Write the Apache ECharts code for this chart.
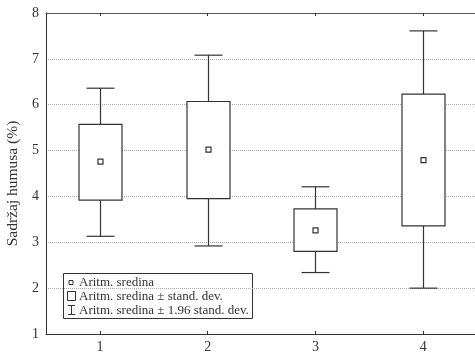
<!DOCTYPE html>
<html><head><meta charset="utf-8">
<script src="https://cdn.jsdelivr.net/npm/echarts@6/dist/echarts.min.js"></script>
<style>html,body{margin:0;padding:0;background:#fff}#c{width:475px;height:357px}</style>
</head><body><div id="c"></div>
<script>
var categories = ['1','2','3','4'];
var means = [4.76, 5.02, 3.26, 4.79];
var sdLow = [3.92, 3.95, 2.80, 3.36];
var sdHigh = [5.57, 6.07, 3.73, 6.23];
var ciLow = [3.13, 2.92, 2.34, 2.00];
var ciHigh = [6.36, 7.08, 4.21, 7.61];
var legendLabels = ['Aritm. sredina', 'Aritm. sredina \u00b1 stand. dev.', 'Aritm. sredina \u00b1 1.96 stand. dev.'];

var FONT = '"Liberation Serif", "DejaVu Serif", serif';
var INK = '#333';
var data = categories.map(function(c, i){ return [i, ciLow[i], sdLow[i], means[i], sdHigh[i], ciHigh[i]]; });

var chart = echarts.init(document.getElementById('c'), null, {renderer:'canvas'});
chart.setOption({
  animation:false,
  backgroundColor:'#fff',
  grid:{left:46, right:-2, top:13, bottom:23, containLabel:false, outerBoundsMode:'none'},
  xAxis:[{
    type:'category', data:categories, position:'bottom',
    axisLine:{lineStyle:{color:INK, width:1}},
    axisTick:{show:true, inside:true, alignWithLabel:true, length:3, lineStyle:{color:INK}},
    axisLabel:{color:INK, fontFamily:FONT, fontSize:14, margin:6},
    splitLine:{show:false}
  },{
    type:'category', data:categories, position:'top',
    axisLine:{lineStyle:{color:'#555', width:1}},
    axisTick:{show:true, inside:true, alignWithLabel:true, length:3, lineStyle:{color:INK}},
    axisLabel:{show:false}, splitLine:{show:false}
  }],
  yAxis:{
    type:'value', min:1, max:8, interval:1,
    name:'Sadržaj humusa (%)', nameLocation:'middle', nameGap:23, nameRotate:90,
    nameTextStyle:{color:INK, fontFamily:FONT, fontSize:15.5, padding:[0,20,0,0]},
    axisLine:{show:true, lineStyle:{color:INK, width:1}},
    axisTick:{show:false},
    axisLabel:{color:INK, fontFamily:FONT, fontSize:14, margin:7},
    splitLine:{show:true, lineStyle:{color:'#aaa', type:[1,1], width:1}}
  },
  series:[{
    type:'custom', xAxisIndex:0,
    data:data,
    renderItem:function(params, api){
      var x = api.value(0);
      var pW0 = api.coord([x, api.value(1)]);
      var pB0 = api.coord([x, api.value(2)]);
      var pM = api.coord([x, api.value(3)]);
      var pB1 = api.coord([x, api.value(4)]);
      var pW1 = api.coord([x, api.value(5)]);
      var cx = Math.round(pM[0]) + 0.5;
      var bw = 43, cw = 28, ms = 5;
      var st = {stroke:INK, lineWidth:1.2, fill:null};
      return {type:'group', children:[
        {type:'line', shape:{x1:cx, y1:pW1[1], x2:cx, y2:pB1[1]}, style:st},
        {type:'line', shape:{x1:cx, y1:pB0[1], x2:cx, y2:pW0[1]}, style:st},
        {type:'line', shape:{x1:cx-cw/2, y1:pW1[1], x2:cx+cw/2, y2:pW1[1]}, style:st},
        {type:'line', shape:{x1:cx-cw/2, y1:pW0[1], x2:cx+cw/2, y2:pW0[1]}, style:st},
        {type:'rect', shape:{x:cx-bw/2, y:pB1[1], width:bw, height:pB0[1]-pB1[1]}, style:{stroke:INK, lineWidth:1.2, fill:'#fff'}},
        {type:'rect', shape:{x:cx-ms/2, y:pM[1]-ms/2, width:ms, height:ms}, style:{stroke:INK, lineWidth:1.2, fill:'#fff'}}
      ]};
    },
    z:5
  }],
  graphic:[{
    type:'group', left:63, top:273, z:100,
    children:[
      {type:'rect', shape:{x:0.5, y:0.5, width:189, height:45}, style:{fill:'#fff', stroke:INK, lineWidth:1}},
      {type:'rect', shape:{x:6, y:7.5, width:4, height:4}, style:{fill:'#fff', stroke:INK, lineWidth:1}},
      {type:'text', x:16, y:9.5, style:{text:legendLabels[0], font:'13px '+FONT, fill:INK, verticalAlign:'middle'}},
      {type:'rect', shape:{x:4.5, y:18.5, width:8, height:9}, style:{fill:'#fff', stroke:INK, lineWidth:1}},
      {type:'text', x:16, y:23.5, style:{text:legendLabels[1], font:'13px '+FONT, fill:INK, verticalAlign:'middle'}},
      {type:'line', shape:{x1:5, y1:32.5, x2:12, y2:32.5}, style:{stroke:INK, lineWidth:1}},
      {type:'line', shape:{x1:8.5, y1:32.5, x2:8.5, y2:41.5}, style:{stroke:INK, lineWidth:1}},
      {type:'line', shape:{x1:5, y1:41.5, x2:12, y2:41.5}, style:{stroke:INK, lineWidth:1}},
      {type:'text', x:16, y:37.5, style:{text:legendLabels[2], font:'13px '+FONT, fill:INK, verticalAlign:'middle'}}
    ]
  }]
});
</script></body></html>
